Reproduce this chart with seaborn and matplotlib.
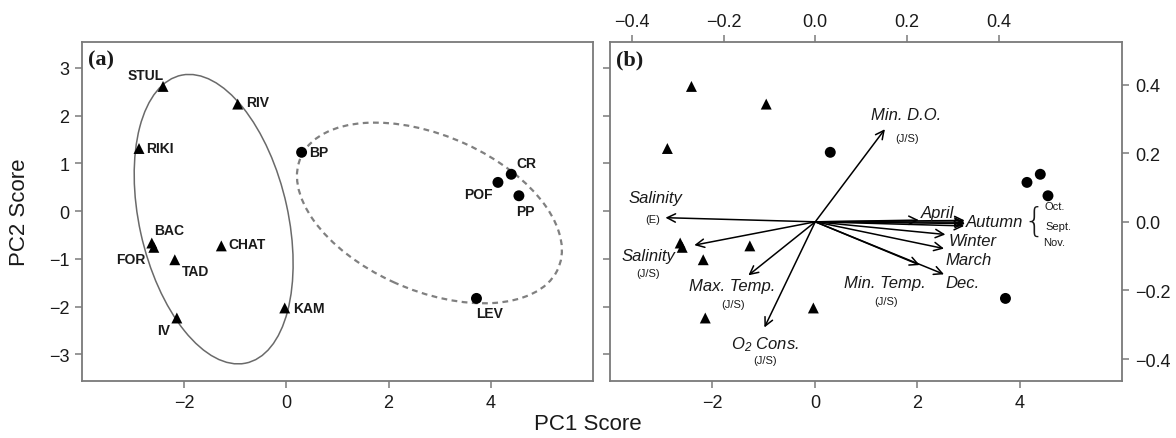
import matplotlib
matplotlib.use("Agg")
import matplotlib.pyplot as plt
from matplotlib.patches import Ellipse
import seaborn as sns
import pandas as pd
import numpy as np

# site scores (PC1, PC2)
sites = ["STUL", "RIV", "RIKI", "BAC", "FOR", "TAD", "CHAT", "KAM", "IV",
         "BP", "CR", "POF", "PP", "LEV"]
pc1 = [-2.41, -0.95, -2.88, -2.63, -2.59, -2.18, -1.27, -0.03, -2.14,
       0.30, 4.40, 4.14, 4.55, 3.72]
pc2 = [2.61, 2.24, 1.31, -0.67, -0.76, -1.02, -0.73, -2.03, -2.24,
       1.23, 0.77, 0.60, 0.32, -1.83]
group = ["tri"] * 9 + ["circ"] * 5

# variable loadings (top / right axes of panel b)
var_keys = ["mindo", "sal_e", "sal_js", "maxt", "o2", "april", "autumn",
            "oct", "sept", "nov", "winter", "march", "mint", "dec"]
var_main = ["Min. D.O.", "Salinity", "Salinity", "Max. Temp.", "O$_2$ Cons.",
            "April", "Autumn", "", "", "", "Winter", "March", "Min. Temp.", "Dec."]
var_sub = ["(J/S)", "(E)", "(J/S)", "(J/S)", "(J/S)", "", "", "Oct.", "Sept.", "Nov.",
           "", "", "(J/S)", ""]
load1 = [0.152, -0.327, -0.264, -0.146, -0.111, 0.226, 0.326,
         0.326, 0.327, 0.325, 0.284, 0.281, 0.228, 0.281]
load2 = [0.270, 0.012, -0.068, -0.156, -0.308, 0.005, -0.001,
         0.004, -0.005, -0.012, -0.037, -0.078, -0.126, -0.153]

df = pd.DataFrame({"site": sites, "pc1": pc1, "pc2": pc2, "group": group})

sns.set_style("ticks")
plt.rcParams["font.family"] = ["Liberation Sans", "DejaVu Sans"]
plt.rcParams["mathtext.fontset"] = "custom"
plt.rcParams["mathtext.it"] = "Liberation Sans:italic"
plt.rcParams["mathtext.rm"] = "Liberation Sans:italic"

FRAME = "#7a7a7a"
TXT = "#1a1a1a"
PX = 0.72  # pixels -> points at dpi 100

fig = plt.figure(figsize=(11.76, 4.39), dpi=100)
ax_a = fig.add_axes([0.0695, 0.1298, 0.4348, 0.7722])
ax_b = fig.add_axes([0.5187, 0.1298, 0.4356, 0.7722])

for ax in (ax_a, ax_b):
    sns.scatterplot(data=df, x="pc1", y="pc2", style="group",
                    markers={"tri": "^", "circ": "o"}, color="black",
                    s=62, linewidth=0, legend=False, ax=ax, zorder=3)
    ax.set_xlim(-4.0, 6.0)
    ax.set_ylim(-3.56, 3.54)
    ax.set_xticks([-2, 0, 2, 4])
    ax.set_yticks([-3, -2, -1, 0, 1, 2, 3])
    ax.set_xlabel("")
    ax.set_ylabel("")
    for sp in ax.spines.values():
        sp.set_color(FRAME)
        sp.set_linewidth(1.3)
    ax.tick_params(direction="out", length=5, width=1.1, color=FRAME,
                   labelsize=13, labelcolor=TXT, pad=4)

ax_b.tick_params(axis="y", labelleft=False)

# group outlines
ax_a.add_patch(Ellipse((-1.42, -0.17), 2.91, 6.16, angle=11.6, fill=False,
                       ec="#6a6a6a", lw=1.1, zorder=2))
ax_a.add_patch(Ellipse((2.80, -0.04), 5.55, 3.22, angle=-26.1, fill=False,
                       ec="#808080", lw=1.6, ls=(0, (2.6, 2.0)), zorder=2))

# site labels: (dx px, dy px down, ha)
lab_off = {
    "STUL": (-17, -11, "center"), "RIV": (8, -2, "left"), "RIKI": (7, 0, "left"),
    "BP": (8, 0, "left"), "CR": (5, -11, "left"), "POF": (-5, 12, "right"),
    "PP": (6, 15, "center"), "BAC": (17, -13, "center"), "FOR": (-8, 12, "right"),
    "TAD": (21, 11, "center"), "CHAT": (7, -2, "left"), "KAM": (8, 0, "left"),
    "IV": (-13, 12, "center"), "LEV": (13, 15, "center"),
}
for s, x, y in zip(sites, pc1, pc2):
    dx, dy, ha = lab_off[s]
    ax_a.annotate(s, (x, y), xytext=(dx * PX, -dy * PX), textcoords="offset points",
                  ha=ha, va="center", fontsize=10, fontweight="bold", color=TXT)

for ax, tag in ((ax_a, "(a)"), (ax_b, "(b)")):
    ax.text(0.012, 0.978, tag, transform=ax.transAxes, ha="left", va="top",
            fontsize=16, fontweight="bold", family=["Liberation Serif", "DejaVu Serif"],
            color=TXT)

# loading axes overlay
ax_l = fig.add_axes(ax_b.get_position(), frameon=False)
ax_l.set_xlim(-0.448, 0.670)
ax_l.set_ylim(-0.464, 0.524)
ax_l.xaxis.tick_top()
ax_l.yaxis.tick_right()
ax_l.set_xticks([-0.4, -0.2, 0.0, 0.2, 0.4])
ax_l.set_yticks([-0.4, -0.2, 0.0, 0.2, 0.4])
ax_l.tick_params(direction="out", length=5, width=1.1, color=FRAME,
                 labelsize=13, labelcolor=TXT, pad=4)
ax_l.patch.set_alpha(0)

for x, y in zip(load1, load2):
    ax_l.annotate("", xy=(x, y), xytext=(0, 0),
                  arrowprops=dict(arrowstyle="->", color="black", lw=1.1,
                                  shrinkA=0, shrinkB=0, mutation_scale=15))

# label offsets from arrow tips (px right, px down)
main_off = {"mindo": (21, -15), "sal_e": (-10, -20), "sal_js": (-46, 10),
            "maxt": (-16, 10), "o2": (1, 16), "april": (19, -8),
            "autumn": (30, -1), "winter": (27, 6), "march": (25, 11),
            "mint": (-35, 17), "dec": (19, 8)}
sub_off = {"mindo": (22, 9), "sal_e": (-13, 1), "sal_js": (-46, 28),
           "maxt": (-15, 29), "o2": (1, 33), "mint": (-34, 36),
           "oct": (90, -14), "sept": (93, 2), "nov": (90, 16)}
for k, m, sb, x, y in zip(var_keys, var_main, var_sub, load1, load2):
    if m:
        dx, dy = main_off[k]
        ax_l.annotate(m, (x, y), xytext=(dx * PX, -dy * PX), textcoords="offset points",
                      ha="center", va="center", fontsize=12, style="italic", color=TXT)
    if sb:
        dx, dy = sub_off[k]
        ax_l.annotate(sb, (x, y), xytext=(dx * PX, -dy * PX), textcoords="offset points",
                      ha="center", va="center", fontsize=8, color=TXT)

i_aut = var_keys.index("autumn")
ax_l.annotate("{", (load1[i_aut], load2[i_aut]), xytext=(69 * PX, 1 * PX),
              textcoords="offset points", ha="center", va="center",
              fontsize=24, fontweight="light", color=TXT,
              family=["DejaVu Sans"])

fig.text(0.5, 0.032, "PC1 Score", ha="center", va="center", fontsize=16, color=TXT)
fig.text(0.017, 0.517, "PC2 Score", ha="center", va="center", rotation=90,
         fontsize=16, color=TXT)

fig.savefig("out.png", dpi=100)
